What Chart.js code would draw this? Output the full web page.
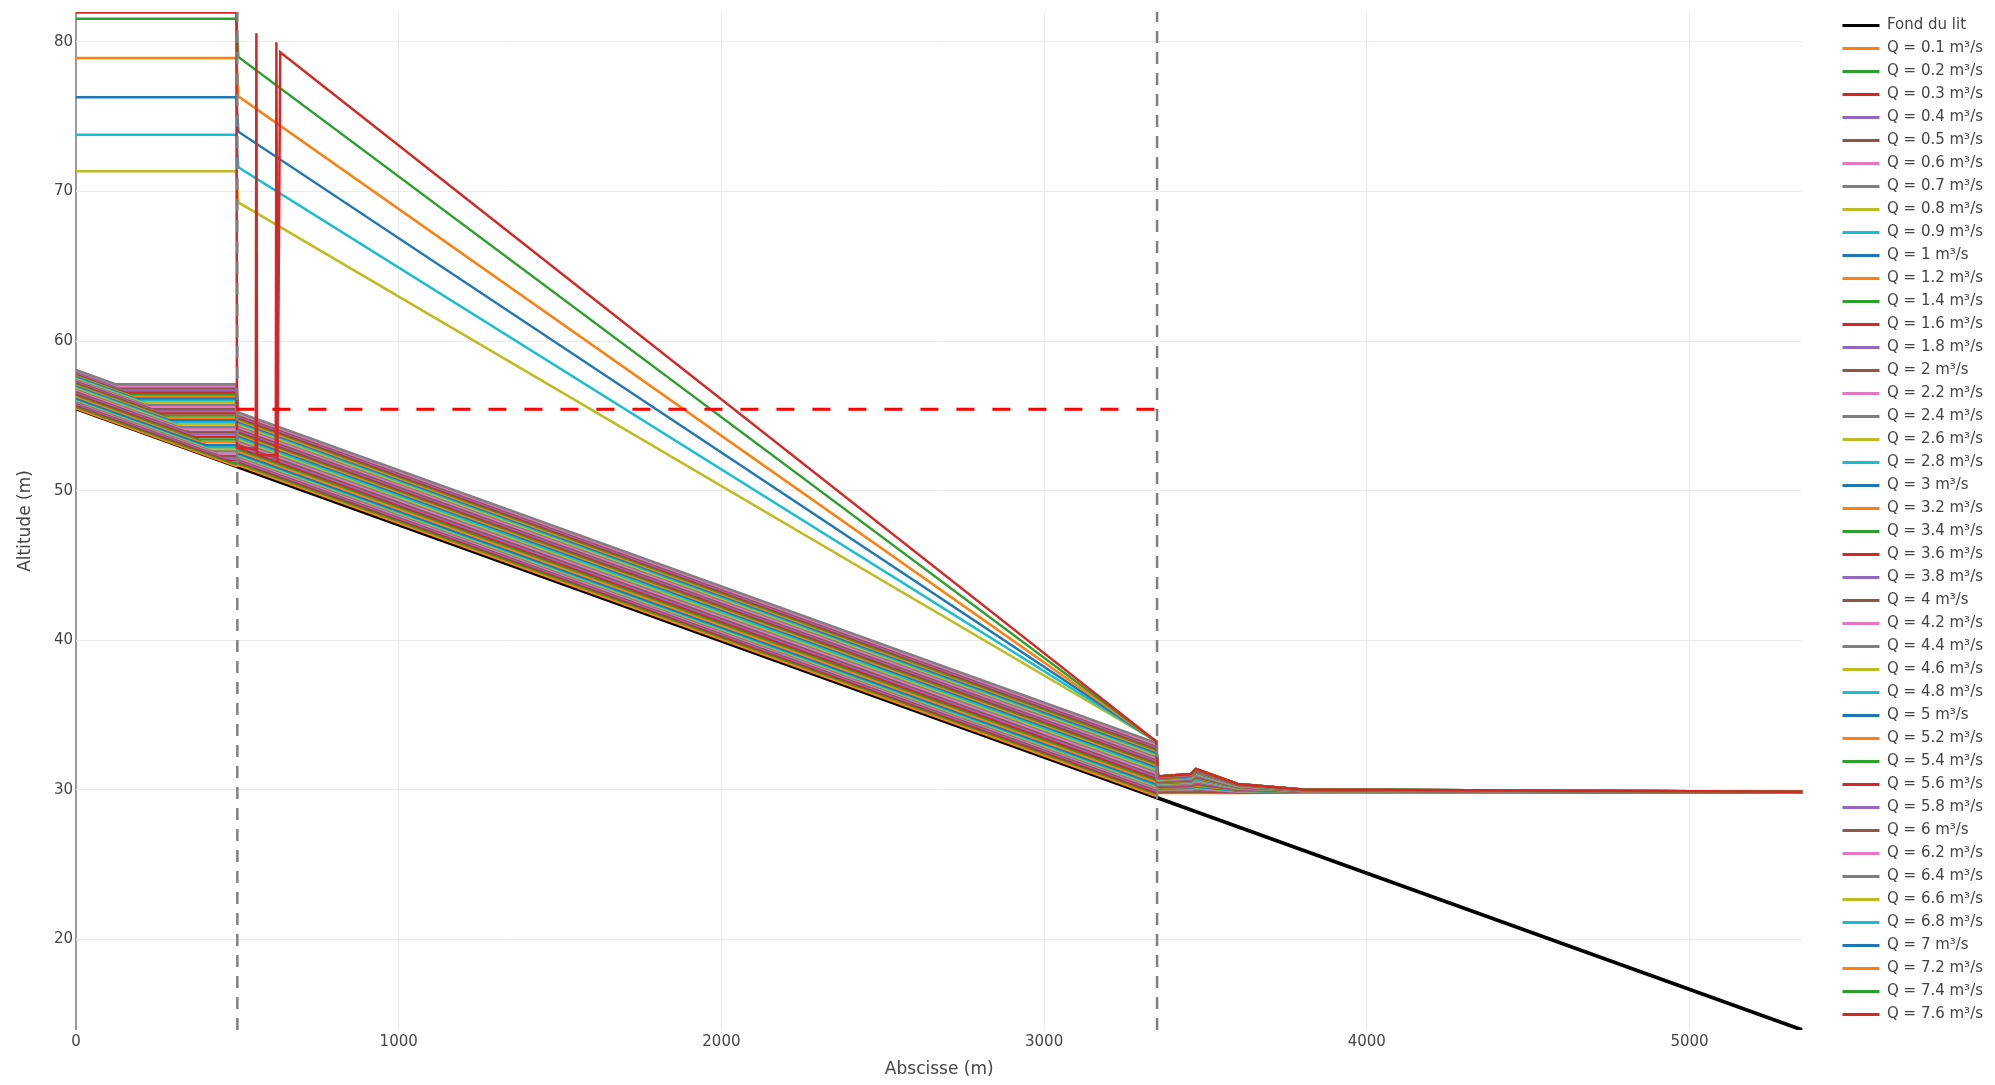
<!DOCTYPE html>
<html lang="fr">
<head>
<meta charset="utf-8">
<title>Lignes d'eau</title>
<script src="https://cdn.jsdelivr.net/npm/chart.js@4.4.1/dist/chart.umd.min.js"></script>
<style>
  html, body { margin: 0; padding: 0; background: #fff; }
  #conteneur { width: 1995px; height: 1085px; }
</style>
</head>
<body>
<div id="conteneur"><canvas id="profil"></canvas></div>
<script>
// fond du lit (2 points, droite)
const fondX = [0, 5350];
const fondY = [55.5, 13.95];

// graduations
const xTicks = [0, 1000, 2000, 3000, 4000, 5000];
const yTicks = [20, 30, 40, 50, 60, 70, 80];

// debits "normaux" 0.1 -> 6.4 m3/s
const debitsBas = [0.1, 0.2, 0.3, 0.4, 0.5, 0.6, 0.7, 0.8, 0.9, 1, 1.2, 1.4, 1.6, 1.8, 2, 2.2, 2.4, 2.6, 2.8, 3,
  3.2, 3.4, 3.6, 3.8, 4, 4.2, 4.4, 4.6, 4.8, 5, 5.2, 5.4, 5.6, 5.8, 6, 6.2, 6.4];

// cote en x = 0
const yAmont = [55.50, 55.62, 55.72, 55.80, 55.88, 55.95, 56.01, 56.08, 56.14, 56.19, 56.30, 56.40, 56.49, 56.58, 56.67,
  56.75, 56.83, 56.90, 56.98, 57.05, 57.12, 57.19, 57.26, 57.32, 57.39, 57.45, 57.51, 57.57, 57.63, 57.69, 57.75, 57.80,
  57.85, 57.91, 57.97, 58.02, 58.07];
// abscisse ou la ligne rejoint le plan d'eau de la retenue
const xCoude = [497, 487, 476, 466, 455, 445, 434, 424, 414, 403, 393, 382, 372, 362, 351, 341, 330, 320, 309, 299,
  289, 278, 268, 257, 247, 237, 226, 216, 205, 195, 184, 174, 164, 153, 143, 132, 122];
// niveau de la retenue (jusqu'a x = 497)
const yRetenue = [51.64, 51.84, 52.02, 52.18, 52.34, 52.49, 52.63, 52.79, 52.93, 53.06, 53.25, 53.43, 53.60, 53.77,
  53.94, 54.10, 54.26, 54.42, 54.58, 54.73, 54.88, 55.03, 55.18, 55.32, 55.47, 55.61, 55.75, 55.89, 56.04, 56.18, 56.32,
  56.45, 56.58, 56.72, 56.86, 56.99, 57.12];

// abscisses communes apres la retenue
const xNoeuds = [497, 503, 3347, 3353, 3455, 3470, 3600, 3800, 5350];
const y503 = [51.69, 51.83, 51.94, 52.04, 52.13, 52.21, 52.28, 52.36, 52.43, 52.50, 52.63, 52.76, 52.88, 53.00, 53.12,
  53.23, 53.34, 53.45, 53.55, 53.66, 53.76, 53.86, 53.96, 54.06, 54.16, 54.25, 54.35, 54.44, 54.53, 54.62, 54.71, 54.80,
  54.89, 54.98, 55.07, 55.15, 55.24];
const y3347 = [29.59, 29.73, 29.84, 29.94, 30.03, 30.11, 30.18, 30.26, 30.33, 30.40, 30.53, 30.66, 30.78, 30.90, 31.02,
  31.13, 31.24, 31.35, 31.45, 31.56, 31.66, 31.76, 31.86, 31.96, 32.06, 32.15, 32.25, 32.34, 32.43, 32.52, 32.61, 32.70,
  32.79, 32.88, 32.97, 33.05, 33.14];
const y3353 = [29.80, 29.85, 29.89, 29.93, 29.96, 29.99, 30.02, 30.05, 30.07, 30.10, 30.14, 30.18, 30.22, 30.26, 30.30,
  30.34, 30.37, 30.40, 30.43, 30.46, 30.49, 30.52, 30.55, 30.58, 30.61, 30.63, 30.66, 30.69, 30.71, 30.74, 30.76, 30.79,
  30.81, 30.83, 30.86, 30.88, 30.90];
const y3455 = [29.80, 29.86, 29.91, 29.95, 29.98, 30.02, 30.05, 30.08, 30.11, 30.14, 30.19, 30.24, 30.29, 30.33, 30.37,
  30.41, 30.45, 30.49, 30.53, 30.56, 30.59, 30.63, 30.66, 30.69, 30.72, 30.76, 30.79, 30.82, 30.85, 30.87, 30.90, 30.93,
  30.95, 30.98, 31.01, 31.03, 31.06];
const y3470 = [29.80, 29.88, 29.93, 29.99, 30.03, 30.08, 30.12, 30.16, 30.20, 30.23, 30.30, 30.36, 30.42, 30.47, 30.53,
  30.58, 30.63, 30.67, 30.72, 30.76, 30.81, 30.85, 30.89, 30.93, 30.97, 31.01, 31.05, 31.09, 31.13, 31.16, 31.20, 31.23,
  31.27, 31.30, 31.34, 31.37, 31.40];
const y3600 = [29.80, 29.83, 29.85, 29.87, 29.89, 29.90, 29.92, 29.93, 29.95, 29.96, 29.99, 30.01, 30.03, 30.05, 30.07,
  30.09, 30.11, 30.13, 30.15, 30.16, 30.18, 30.19, 30.21, 30.22, 30.24, 30.25, 30.27, 30.28, 30.30, 30.31, 30.33, 30.34,
  30.35, 30.36, 30.38, 30.39, 30.40];
const y3800 = [29.82, 29.83, 29.84, 29.84, 29.85, 29.85, 29.86, 29.86, 29.87, 29.87, 29.88, 29.89, 29.90, 29.90, 29.91,
  29.92, 29.92, 29.93, 29.94, 29.94, 29.95, 29.95, 29.96, 29.96, 29.97, 29.97, 29.98, 29.98, 29.99, 29.99, 30.00, 30.00,
  30.00, 30.01, 30.01, 30.02, 30.02];
const y5350 = [29.82, 29.82, 29.82, 29.82, 29.82, 29.82, 29.83, 29.83, 29.83, 29.83, 29.83, 29.83, 29.84, 29.84, 29.84,
  29.84, 29.84, 29.84, 29.85, 29.85, 29.85, 29.85, 29.85, 29.85, 29.86, 29.86, 29.86, 29.86, 29.86, 29.86, 29.87, 29.87,
  29.87, 29.87, 29.88, 29.88, 29.88];

// debits forts : retenue tres haute
const debitsHauts = [6.6, 6.8, 7, 7.2, 7.4];
const yHautRetenue = [71.35, 73.80, 76.30, 78.93, 81.55];
const yHaut503 = [69.27, 71.62, 74.00, 76.37, 79.00];
const queueX = [3347, 3353, 3455, 3470, 3600, 3800, 5350];
const queueHautY = [33.25, 30.90, 31.06, 31.40, 30.40, 30.02, 29.88];

// Q = 7.6 (oscillations juste apres le barrage)
const debitMax = 7.6;
const q76X = [0, 497, 499, 557, 559, 561, 619, 621, 624, 633];
const q76Y = [81.97, 81.97, 52.9, 52.8, 80.58, 52.4, 52.35, 79.98, 51.9, 79.3];

// reperes
const barragesX = [500, 3350];
const seuilX = [497, 3350];
const seuilY = 55.45;

const yMin = 13.95;
const yMax = 82;
const xMax = 5350;

const couleurs = ['#1f77b4', '#ff7f0e', '#2ca02c', '#d62728', '#9467bd', '#8c564b', '#e377c2', '#7f7f7f', '#bcbd22', '#17becf'];

function points(xs, ys) {
  return xs.map((x, i) => ({ x: x, y: ys[i] }));
}

function serieQ(q, t, xs, ys) {
  const c = couleurs[t % 10];
  return {
    label: 'Q = ' + q + ' m³/s',
    data: points(xs, ys),
    borderColor: c,
    backgroundColor: c,
    borderWidth: 2.5,
    order: 100 - t,
  };
}

let datasets = [];
datasets.push({
  label: 'Fond du lit',
  data: points(fondX, fondY),
  borderColor: '#000',
  backgroundColor: '#000',
  borderWidth: 3.75,
  order: 100,
});

let t = 1;
debitsBas.forEach((q, k) => {
  const xs = [0, xCoude[k]].concat(xNoeuds);
  const ys = [yAmont[k], yRetenue[k], yRetenue[k], y503[k], y3347[k], y3353[k], y3455[k], y3470[k], y3600[k], y3800[k], y5350[k]];
  datasets.push(serieQ(q, t, xs, ys));
  t++;
});
debitsHauts.forEach((q, j) => {
  const xs = [0, 497, 503].concat(queueX);
  const ys = [yHautRetenue[j], yHautRetenue[j], yHaut503[j]].concat(queueHautY);
  datasets.push(serieQ(q, t, xs, ys));
  t++;
});
datasets.push(serieQ(debitMax, t, q76X.concat(queueX), q76Y.concat(queueHautY)));

// formes : seuil (rouge) et barrages (gris)
datasets.push({
  label: '',
  data: points(seuilX, [seuilY, seuilY]),
  borderColor: 'red',
  borderWidth: 3,
  borderDash: [18, 18],
  order: 0,
});
barragesX.forEach(x => {
  datasets.push({
    label: '',
    data: points([x, x], [yMin, yMax]),
    borderColor: '#808080',
    borderWidth: 2.5,
    borderDash: [12, 9],
    order: 0,
  });
});

Chart.defaults.font.family = "'DejaVu Sans', Verdana, sans-serif";
Chart.defaults.color = '#444';

new Chart(document.getElementById('profil'), {
  type: 'line',
  data: { datasets: datasets },
  options: {
    responsive: true,
    maintainAspectRatio: false,
    animation: false,
    events: [],
    elements: { point: { radius: 0 }, line: { tension: 0, fill: false } },
    layout: { padding: { top: 10, right: 2, bottom: 0, left: 0 } },
    scales: {
      x: {
        type: 'linear',
        min: 0,
        max: xMax,
        afterFit(s) { s.height = 55; },
        afterBuildTicks(s) { s.ticks = xTicks.map(v => ({ value: v })); },
        ticks: { padding: 3, color: '#444', font: { size: 15 }, callback: v => String(v) },
        grid: {
          drawTicks: false,
          color: c => (c.tick && c.tick.value === 0 ? '#9a9a9a' : '#ebebeb'),
          lineWidth: c => (c.tick && c.tick.value === 0 ? 2 : 1),
        },
        border: { display: false },
        title: { display: true, text: 'Abscisse (m)', color: '#444', font: { size: 17 }, padding: { top: 0, bottom: 5.5 } },
      },
      y: {
        type: 'linear',
        min: yMin,
        max: yMax,
        afterFit(s) { s.width = 76; },
        afterBuildTicks(s) { s.ticks = yTicks.map(v => ({ value: v })); },
        ticks: { padding: 3, color: '#444', font: { size: 15 }, callback: v => String(v) },
        grid: { drawTicks: false, color: '#ebebeb' },
        border: { display: false },
        title: { display: true, text: 'Altitude (m)', color: '#444', font: { size: 17 }, padding: { top: 15, bottom: 0 } },
      },
      // marge entre le graphique et la legende
      yPad: {
        type: 'linear',
        position: 'right',
        display: true,
        afterFit(s) { s.width = 32; },
        ticks: { display: false },
        grid: { display: false },
        border: { display: false },
      },
    },
    plugins: {
      tooltip: { enabled: false },
      legend: {
        position: 'right',
        align: 'start',
        labels: {
          boxWidth: 37,
          boxHeight: 3,
          padding: 8,
          color: '#444',
          font: { size: 15 },
          generateLabels(chart) {
            const items = Chart.defaults.plugins.legend.labels.generateLabels(chart);
            items.forEach(it => { it.lineWidth = 0; it.fillStyle = it.strokeStyle; });
            return items;
          },
          filter: it => it.text !== '',
          sort: (a, b) => a.datasetIndex - b.datasetIndex,
        },
      },
    },
  },
});
</script>
</body>
</html>
